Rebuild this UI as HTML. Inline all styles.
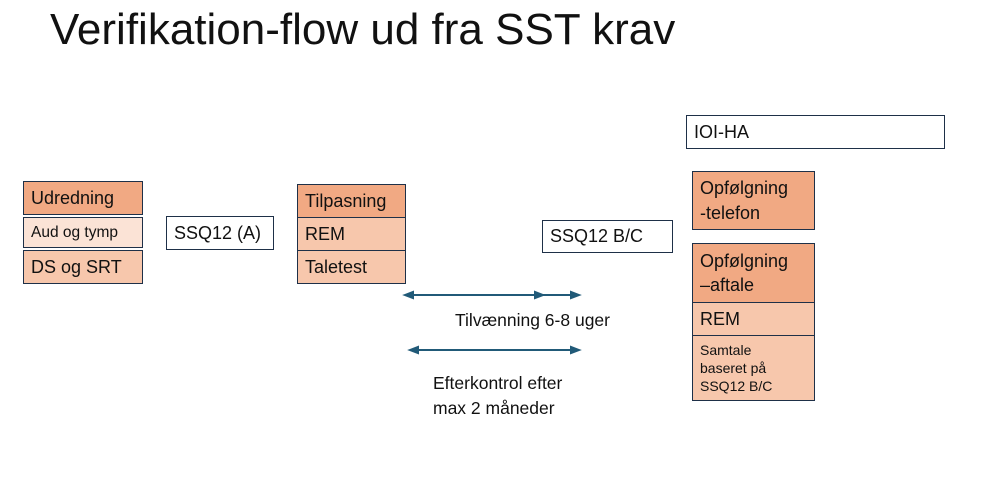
<!DOCTYPE html>
<html><head><meta charset="utf-8"><style>
body{margin:0;width:982px;height:481px;background:#fff;position:relative;overflow:hidden;font-family:"Liberation Sans",sans-serif;color:#111}
.b{position:absolute;box-sizing:border-box;border:1.5px solid #1e3048;padding-left:7px;font-size:18px;display:flex;align-items:center;line-height:1.35}
.d{background:#F1A983}.l{background:#F7C7AC}.v{background:#FBE3D6}.w{background:#fff}
.t{position:absolute;font-size:17.5px;line-height:25px}
</style></head><body>
<div class="t" style="left:50px;top:4px;font-size:44px;line-height:52px">Verifikation-flow ud fra SST krav</div>

<div class="b d" style="left:23px;top:181px;width:120px;height:34px">Udredning</div>
<div class="b v" style="left:23px;top:217px;width:120px;height:31px;font-size:15.5px;padding-top:2px">Aud og tymp</div>
<div class="b l" style="left:23px;top:250px;width:120px;height:34px">DS og SRT</div>

<div class="b w" style="left:166px;top:216px;width:108px;height:34px">SSQ12 (A)</div>

<div class="b d" style="left:297px;top:184px;width:109px;height:34px">Tilpasning</div>
<div class="b l" style="left:297px;top:217px;width:109px;height:34px">REM</div>
<div class="b l" style="left:297px;top:250px;width:109px;height:34px">Taletest</div>

<div class="b w" style="left:542px;top:220px;width:131px;height:33px">SSQ12 B/C</div>
<div class="b w" style="left:686px;top:115px;width:259px;height:34px">IOI-HA</div>

<div class="b d" style="left:692px;top:171px;width:123px;height:59px">Opfølgning<br>-telefon</div>
<div class="b d" style="left:692px;top:243px;width:123px;height:60px">Opfølgning<br>–aftale</div>
<div class="b l" style="left:692px;top:302px;width:123px;height:34px">REM</div>
<div class="b l" style="left:692px;top:335px;width:123px;height:66px;font-size:14px;line-height:18px">Samtale<br>baseret på<br>SSQ12 B/C</div>

<svg style="position:absolute;left:0;top:0" width="982" height="481">
<g stroke="#215a78" stroke-width="2" fill="#215a78">
<line x1="408" y1="295" x2="576" y2="295"/>
<polygon points="405,295 413,292 413,298"/>
<polygon points="579,295 571,292 571,298"/>
<polygon points="543,295 535,292 535,298"/>
<line x1="413" y1="350" x2="576" y2="350"/>
<polygon points="410,350 418,347 418,353"/>
<polygon points="579,350 571,347 571,353"/>
</g></svg>

<div class="t" style="left:455px;top:308px">Tilvænning 6-8 uger</div>
<div class="t" style="left:433px;top:371px">Efterkontrol efter<br>max 2 måneder</div>
</body></html>
